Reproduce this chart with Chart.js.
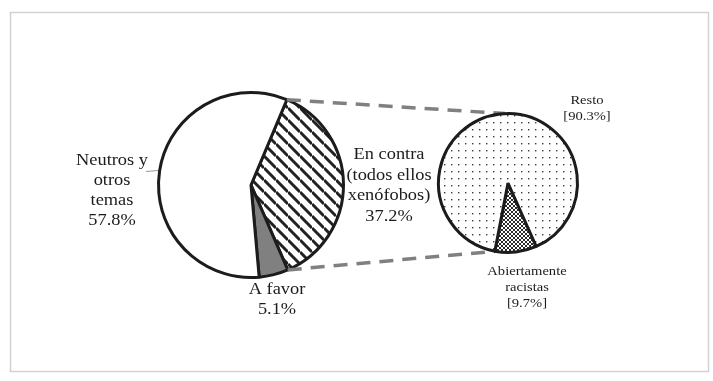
<!DOCTYPE html>
<html>
<head>
<meta charset="utf-8">
<script src="https://cdn.jsdelivr.net/npm/chart.js@4.4.1/dist/chart.umd.min.js"></script>
<style>
  body { margin: 0; background: #fff; }
  #wrap { position: relative; width: 713px; height: 381px; }
  #wrap canvas { position: absolute; left: 0; top: 0; }
</style>
</head>
<body>
<div id="wrap">
  <canvas id="mainPie" width="713" height="381"></canvas>
  <canvas id="subPie" width="713" height="381"></canvas>
</div>
<script>
// main pie: order goes clockwise starting at the "En contra" slice
const mainLabels = ['En contra', 'A favor', 'Neutros y otros temas'];
const mainValues = [37.2, 5.1, 57.8];
const mainTextLines = [
  ['En contra', '(todos ellos', 'xenófobos)'],
  ['A favor'],
  ['Neutros y', 'otros', 'temas']
];

// breakdown of "En contra"
const subLabels = ['Abiertamente racistas', 'Resto'];
const subValues = [9.7, 90.3];
const subTextLines = [
  ['Abiertamente', 'racistas'],
  ['Resto']
];

const FONT = '"Liberation Serif", "Times New Roman", serif';
const INK = '#1c1c1c';

function makePattern(size, paint) {
  const c = document.createElement('canvas');
  c.width = size; c.height = size;
  const g = c.getContext('2d');
  g.fillStyle = '#fff';
  g.fillRect(0, 0, size, size);
  paint(g, size);
  return c.getContext('2d').createPattern(c, 'repeat');
}

const hatch = makePattern(12, (g, s) => {
  g.strokeStyle = '#222';
  g.lineWidth = 3;
  for (let k = -1; k <= 1; k++) {
    g.beginPath();
    g.moveTo(0, k * s);
    g.lineTo(s, s + k * s);
    g.stroke();
  }
});

const dots = makePattern(7, (g) => {
  g.fillStyle = '#3a3a3a';
  g.fillRect(3, 3, 1.4, 1.4);
});

const cross = makePattern(4, (g, s) => {
  g.strokeStyle = '#2a2a2a';
  g.lineWidth = 1;
  g.beginPath();
  g.moveTo(0, 0); g.lineTo(s, s);
  g.moveTo(s, 0); g.lineTo(0, s);
  g.stroke();
});

function drawText(ctx, lines, cx, baseY, step, size, sx) {
  ctx.save();
  ctx.font = size + 'px ' + FONT;
  ctx.fillStyle = INK;
  ctx.textAlign = 'center';
  ctx.textBaseline = 'alphabetic';
  lines.forEach((t, i) => {
    ctx.save();
    ctx.translate(cx, baseY + i * step);
    ctx.scale(sx, 1);
    ctx.fillText(t, 0, 0);
    ctx.restore();
  });
  ctx.restore();
}

const mainDecor = {
  id: 'mainDecor',
  beforeDraw(chart) {
    const ctx = chart.ctx;
    ctx.save();
    ctx.fillStyle = '#fff';
    ctx.fillRect(0, 0, chart.width, chart.height);
    ctx.strokeStyle = '#d2d2d2';
    ctx.lineWidth = 1.5;
    ctx.strokeRect(10.5, 12.5, 698, 359);
    ctx.restore();
  },
  afterDraw(chart) {
    const ctx = chart.ctx;
    const arc = chart.getDatasetMeta(0).data[0];
    const cx = arc.x, cy = arc.y, r = arc.outerRadius;
    const pct = mainValues.map(v => v.toFixed(1) + '%');

    drawText(ctx, mainTextLines[0].concat(pct[0]), cx + 138, cy - 26, 20.5, 17, 1.08);
    drawText(ctx, mainTextLines[1].concat(pct[1]), cx + 26, cy + 109, 20, 17, 1.08);
    drawText(ctx, mainTextLines[2].concat(pct[2]), cx - 139, cy - 20, 20, 17, 1.08);

    // short leader line next to "Neutros y"
    ctx.save();
    ctx.strokeStyle = '#9a9a9a';
    ctx.lineWidth = 1;
    ctx.beginPath();
    ctx.moveTo(cx - 105, cy - 13.5);
    ctx.lineTo(cx - r - 0.5, cy - 14.5);
    ctx.stroke();
    ctx.restore();
  }
};

const mainChart = new Chart(document.getElementById('mainPie'), {
  type: 'pie',
  data: {
    labels: mainLabels,
    datasets: [{
      data: mainValues,
      backgroundColor: [hatch, '#808080', '#ffffff'],
      borderColor: INK,
      borderWidth: 3,
      hoverBorderWidth: 3,
      hoverOffset: 0
    }]
  },
  options: {
    responsive: false,
    animation: false,
    events: [],
    rotation: 22.8,
    layout: { padding: { left: 157, right: 368, top: 91, bottom: 102 } },
    plugins: { legend: { display: false }, tooltip: { enabled: false } }
  },
  plugins: [mainDecor]
});

const subDecor = {
  id: 'subDecor',
  beforeDatasetsDraw(chart) {
    // dashed connectors from the "En contra" slice to the breakdown pie
    const src = mainChart.getDatasetMeta(0).data[0];
    const dst = chart.getDatasetMeta(0).data[0];
    const toRad = d => d * Math.PI / 180;
    const from = [src.startAngle, src.endAngle].map(a => [
      src.x + src.outerRadius * Math.cos(a), src.y + src.outerRadius * Math.sin(a)
    ]);
    const to = [toRad(-92.5), toRad(100.7)].map(a => [
      dst.x + dst.outerRadius * Math.cos(a), dst.y + dst.outerRadius * Math.sin(a)
    ]);
    const ctx = chart.ctx;
    ctx.save();
    ctx.strokeStyle = '#808080';
    ctx.lineWidth = 3.5;
    ctx.setLineDash([14, 9]);
    for (let i = 0; i < 2; i++) {
      ctx.beginPath();
      ctx.moveTo(from[i][0], from[i][1]);
      ctx.lineTo(to[i][0], to[i][1]);
      ctx.stroke();
    }
    ctx.restore();
  },
  afterDraw(chart) {
    const ctx = chart.ctx;
    const arc = chart.getDatasetMeta(0).data[0];
    const cx = arc.x, cy = arc.y;
    const pct = subValues.map(v => '[' + v.toFixed(1) + '%]');
    drawText(ctx, subTextLines[1].concat(pct[1]), cx + 79, cy - 79, 16, 13.5, 1.08);
    drawText(ctx, subTextLines[0].concat(pct[0]), cx + 19, cy + 92, 16, 13.5, 1.08);
  }
};

new Chart(document.getElementById('subPie'), {
  type: 'pie',
  data: {
    labels: subLabels,
    datasets: [{
      data: subValues,
      backgroundColor: [cross, dots],
      borderColor: INK,
      borderWidth: 3,
      hoverBorderWidth: 3,
      hoverOffset: 0
    }]
  },
  options: {
    responsive: false,
    animation: false,
    events: [],
    rotation: 156,
    layout: { padding: { left: 437, right: 134, top: 112, bottom: 127 } },
    plugins: { legend: { display: false }, tooltip: { enabled: false } }
  },
  plugins: [subDecor]
});
</script>
</body>
</html>
